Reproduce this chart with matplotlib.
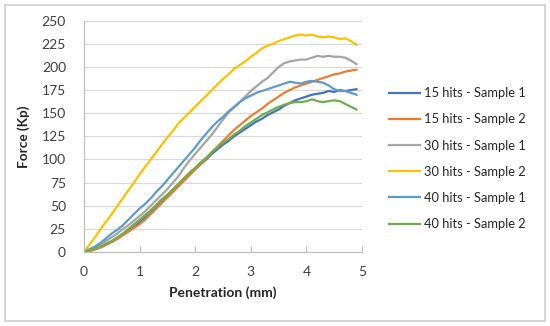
import matplotlib
matplotlib.use("Agg")
import matplotlib.pyplot as plt
from matplotlib.patches import Rectangle

plt.rcParams['font.family'] = ['Lato', 'DejaVu Sans']

penetration = [round(i * 0.1, 1) for i in range(50)]

hits15_s1 = [0, 1, 3, 5, 8, 11, 15, 19, 23, 27, 32, 37, 42, 48, 54, 60, 66, 72, 78, 84,
             90, 95, 100, 106, 111, 116, 120, 125, 129, 133, 137, 141, 144, 148, 151, 154, 158, 161, 164, 166,
             168, 170, 171, 172, 174, 173, 175, 174, 175, 176]
hits15_s2 = [0, 1, 3, 5, 8, 11, 14, 18, 22, 26, 30, 35, 41, 47, 53, 59, 65, 71, 77, 83,
             89, 95, 101, 108, 114, 120, 126, 132, 137, 142, 147, 151, 155, 160, 164, 168, 172, 175, 178, 180,
             182, 184, 186, 188, 190, 192, 193, 195, 196, 197]
hits30_s1 = [0, 2, 5, 8, 12, 16, 20, 25, 29, 34, 39, 44, 50, 56, 62, 68, 75, 82, 91, 99,
             106, 113, 120, 127, 135, 143, 151, 156, 162, 168, 174, 179, 184, 188, 194, 200, 204, 206, 207, 208,
             208, 210, 212, 211, 212, 211, 211, 210, 207, 203]
hits30_s2 = [0, 8, 16, 25, 33, 41, 50, 58, 67, 75, 84, 92, 100, 108, 116, 124, 131, 139, 145, 151,
             157, 163, 169, 175, 181, 187, 192, 198, 202, 206, 211, 215, 220, 223, 225, 228, 230, 232, 234, 235,
             234, 235, 233, 232, 233, 232, 230, 231, 228, 224]
hits40_s1 = [0, 3, 6, 10, 15, 20, 24, 29, 35, 41, 47, 52, 58, 65, 71, 78, 85, 92, 99, 106,
             113, 121, 128, 135, 141, 146, 152, 157, 162, 166, 169, 172, 174, 176, 178, 180, 182, 184, 183, 182,
             184, 185, 184, 183, 180, 176, 174, 174, 172, 170]
hits40_s2 = [0, 2, 4, 6, 9, 12, 16, 20, 25, 30, 35, 40, 45, 51, 57, 62, 68, 74, 80, 86,
             91, 97, 102, 108, 113, 118, 122, 127, 131, 136, 140, 144, 148, 151, 154, 157, 159, 161, 162, 162,
             163, 165, 163, 162, 163, 164, 163, 160, 157, 154]

series_names = ["15 hits - Sample 1", "15 hits - Sample 2", "30 hits - Sample 1",
                "30 hits - Sample 2", "40 hits - Sample 1", "40 hits - Sample 2"]
series_values = [hits15_s1, hits15_s2, hits30_s1, hits30_s2, hits40_s1, hits40_s2]
colors = ["#4472C4", "#ED7D31", "#A5A5A5", "#FFC000", "#5B9BD5", "#70AD47"]

x_ticks = [0, 1, 2, 3, 4, 5]
y_ticks = list(range(0, 251, 25))

W, H = 550, 326
fig = plt.figure(figsize=(W / 100, H / 100), dpi=100)
ax = fig.add_axes([84 / W, 1 - 252 / H, (362 - 84) / W, (252 - 20.7) / H])

for name, vals, c in zip(series_names, series_values, colors):
    ax.plot(penetration, vals, color=c, lw=1.6, label=name)

ax.set_xlim(0, 5)
ax.set_ylim(0, 250)
ax.set_xticks(x_ticks)
ax.set_yticks(y_ticks)
ax.grid(axis='y', color='#D9D9D9', lw=0.8)
ax.set_axisbelow(True)
for s in ['top', 'right']:
    ax.spines[s].set_visible(False)
for s in ['left', 'bottom']:
    ax.spines[s].set_color('#BFBFBF')
    ax.spines[s].set_linewidth(0.9)
ax.tick_params(axis='x', direction='in', length=4, color='#BFBFBF', labelsize=10, pad=10, labelcolor='#404040')
ax.tick_params(axis='y', length=0, labelsize=10, pad=13, labelcolor='#404040')
ax.set_xlabel("Penetration (mm)", fontsize=10, fontweight='bold', color='#262626', labelpad=6)
ax.set_ylabel("Force (Kp)", fontsize=9.8, fontweight='bold', color='#262626', labelpad=8)

leg = fig.legend(loc='upper left', bbox_to_anchor=(384 / W, 1 - 82 / H), frameon=False,
                 fontsize=9.3, handlelength=2.4, handletextpad=0.3, labelspacing=1.1,
                 borderaxespad=0)
for t in leg.get_texts():
    t.set_color('#262626')

fig.patches.append(Rectangle((5 / W, 5 / H), 540 / W, 316 / H, transform=fig.transFigure,
                             fill=False, edgecolor='#D0D0D0', lw=1.2))

fig.savefig("out.png", dpi=100)
